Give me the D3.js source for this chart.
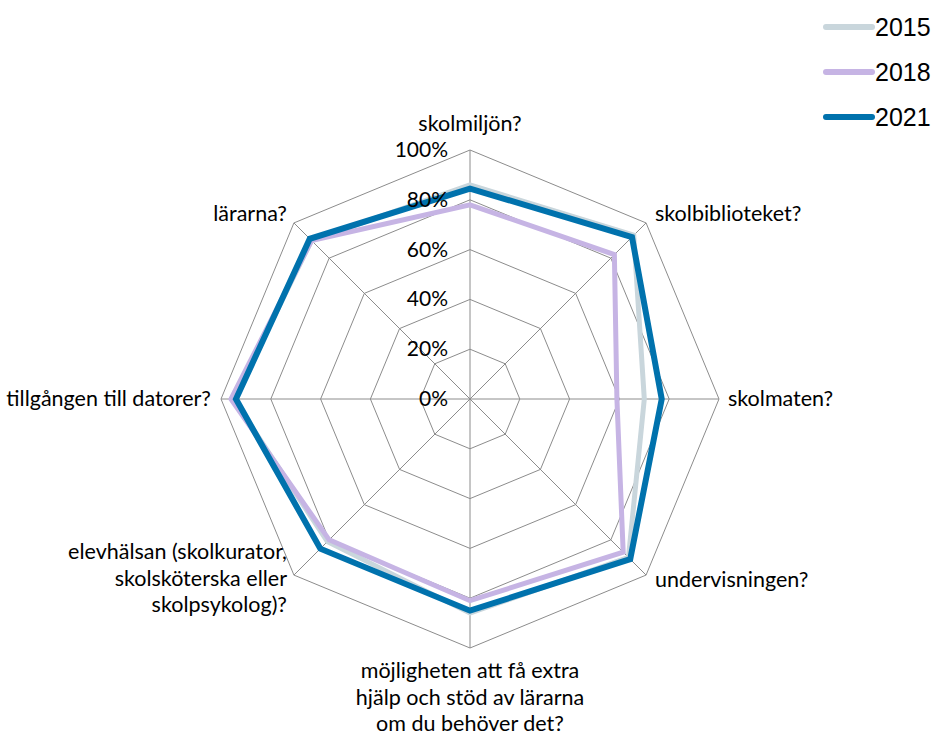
<!DOCTYPE html>
<html>
<head>
<meta charset="utf-8">
<script src="https://cdn.jsdelivr.net/npm/d3@7"></script>
<style>
  body { margin: 0; background: #fff; }
  svg { display: block; }
</style>
</head>
<body>
<div id="chart"></div>
<script>
const categories = [
  "skolmiljön?",
  "skolbiblioteket?",
  "skolmaten?",
  "undervisningen?",
  "möjligheten att få extra|hjälp och stöd av lärarna|om du behöver det?",
  "elevhälsan (skolkurator,|skolsköterska eller|skolpsykolog)?",
  "tillgången till datorer?",
  "lärarna?"
];
const years = ["2015", "2018", "2021"];
const values2015 = [0.86, 0.93, 0.70, 0.90, 0.86, 0.81, 0.95, 0.90];
const values2018 = [0.78, 0.82, 0.59, 0.87, 0.81, 0.80, 0.96, 0.90];
const values2021 = [0.845, 0.92, 0.77, 0.91, 0.85, 0.85, 0.94, 0.91];
const tickValues = [0, 0.2, 0.4, 0.6, 0.8, 1.0];
const colors = ["#c9d6dc", "#c6b4e4", "#0072ad"];

const W = 937, H = 735;
const CX = 470, CY = 399, R = 249;
const FONT = "Lato, 'Open Sans', sans-serif";

const svg = d3.select("#chart").append("svg")
    .attr("width", W)
    .attr("height", H);

const r = d3.scaleLinear().domain([0, 1]).range([0, R]);
const angle = d3.scaleLinear().domain([0, categories.length]).range([0, 2 * Math.PI]);

const g = svg.append("g").attr("transform", `translate(${CX},${CY})`);

function pt(i, v) {
  const a = angle(i);
  return [r(v) * Math.sin(a), -r(v) * Math.cos(a)];
}

// grid octagons
tickValues.slice(1).forEach(t => {
  g.append("path")
    .attr("d", d3.line()(categories.map((c, i) => pt(i, t))) + "Z")
    .attr("fill", "none")
    .attr("stroke", "#8c8c8c")
    .attr("stroke-width", 1);
});

// spokes
categories.forEach((c, i) => {
  const p = pt(i, 1);
  g.append("line")
    .attr("x1", 0).attr("y1", 0)
    .attr("x2", p[0]).attr("y2", p[1])
    .attr("stroke", "#8c8c8c")
    .attr("stroke-width", 1);
});

// series
const lineGen = d3.lineRadial()
    .angle((d, i) => angle(i))
    .radius(d => r(d))
    .curve(d3.curveLinearClosed);

const series = [values2015, values2018, values2021];
const widths = [5, 5, 6];
series.forEach((vals, k) => {
  g.append("path")
    .attr("d", lineGen(vals))
    .attr("fill", "none")
    .attr("stroke", colors[k])
    .attr("stroke-width", widths[k])
    .attr("stroke-linejoin", "miter");
});

// tick labels (drawn over the lines)
g.selectAll(".tick")
  .data(tickValues)
  .enter().append("text")
  .attr("x", -22)
  .attr("y", d => -r(d) + 7)
  .attr("text-anchor", "end")
  .attr("font-family", FONT)
  .attr("font-size", "21px")
  .attr("fill", "#000")
  .text(d => d3.format(".0%")(d));

// category labels
const labelPos = [
  { x: 0, y: -268, anchor: "middle" },
  { x: 185, y: -178, anchor: "start" },
  { x: 258, y: 7, anchor: "start" },
  { x: 185, y: 188, anchor: "start" },
  { x: 0, y: 279, anchor: "middle" },
  { x: -183, y: 160, anchor: "end" },
  { x: -259, y: 7, anchor: "end" },
  { x: -183, y: -178, anchor: "end" }
];
categories.forEach((c, i) => {
  const lp = labelPos[i];
  const t = g.append("text")
    .attr("x", lp.x)
    .attr("y", lp.y)
    .attr("text-anchor", lp.anchor)
    .attr("font-family", FONT)
    .attr("font-size", "21.5px")
    .attr("fill", "#000");
  c.split("|").forEach((line, j) => {
    t.append("tspan")
      .attr("x", lp.x)
      .attr("dy", j === 0 ? 0 : 26.5)
      .text(line);
  });
});

// legend
const legend = svg.append("g").attr("transform", "translate(826,27)");
years.forEach((y, k) => {
  const row = legend.append("g").attr("transform", `translate(0,${k * 45})`);
  row.append("line")
    .attr("x1", 0).attr("x2", 46)
    .attr("y1", 0).attr("y2", 0)
    .attr("stroke", colors[k])
    .attr("stroke-width", 6)
    .attr("stroke-linecap", "round");
  row.append("text")
    .attr("x", 49)
    .attr("y", 9)
    .attr("font-family", "'Liberation Sans', Arial, sans-serif")
    .attr("font-size", "25px")
    .attr("fill", "#000")
    .text(y);
});
</script>
</body>
</html>
